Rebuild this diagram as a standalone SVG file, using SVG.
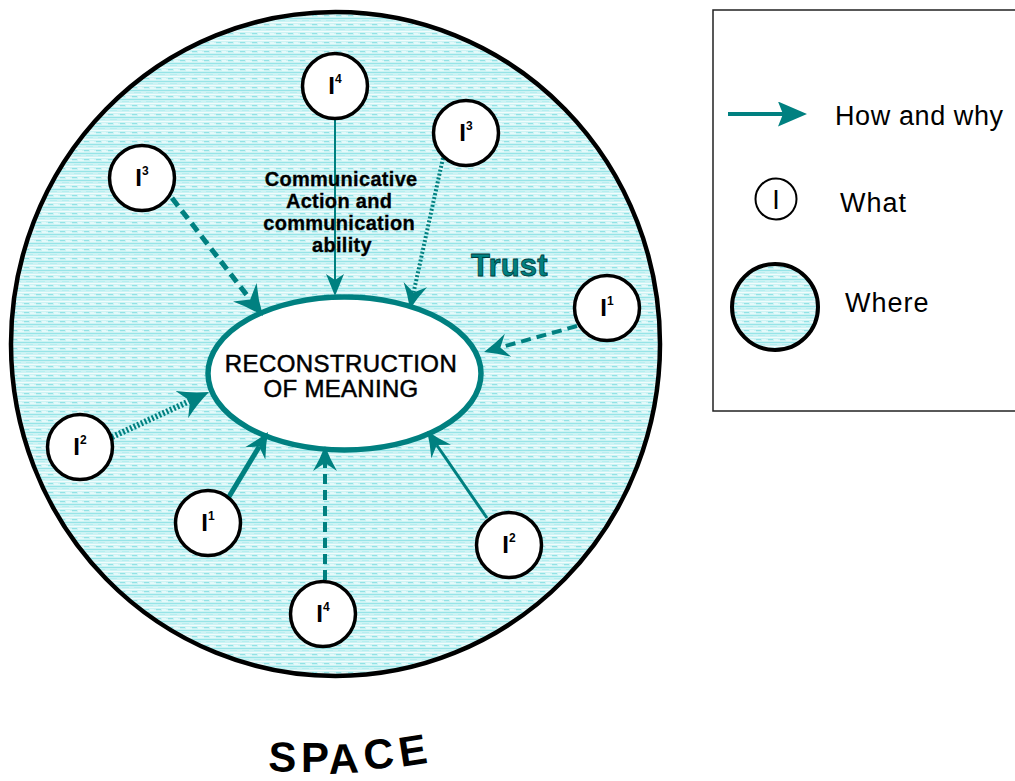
<svg xmlns="http://www.w3.org/2000/svg" width="1015" height="781" viewBox="0 0 1015 781">
<style>
.node circle{fill:#fff;stroke:#000;stroke-width:3.5}
.node text{font-family:"Liberation Sans",Arial,sans-serif;font-weight:bold;font-size:24px;fill:#000;text-anchor:middle}
.sup{font-size:12px}
.conn line{stroke:#008080;fill:none}
.lbl{font-family:"Liberation Sans",Arial,sans-serif;fill:#000}
</style>
<defs>
<pattern id="water" width="12" height="9" patternUnits="userSpaceOnUse">
<rect width="12" height="9" fill="#cdf3f4"/>
<rect y="0" width="12" height="1" fill="#96e4e7"/>
<rect x="2" y="2" width="7" height="1" fill="#b6eef0"/>
<rect y="4" width="12" height="1" fill="#f1fcfc"/>
<rect y="6" width="5" height="1" fill="#92e2e5"/>
<rect x="6" y="6" width="4" height="1" fill="#e3f9fa"/>
<rect x="6" y="7" width="6" height="1" fill="#e6fafa"/>
</pattern>
<marker id="ahL" viewBox="0 0 30 30" markerWidth="30" markerHeight="30" refX="9" refY="15" orient="auto" markerUnits="userSpaceOnUse"><path d="M30,15 Q14,9 0,0 L9,15 L0,30 Q14,21 30,15 Z" fill="#008080"/></marker>
<marker id="ahM" viewBox="0 0 25 24" markerWidth="25" markerHeight="24" refX="8" refY="12" orient="auto" markerUnits="userSpaceOnUse"><path d="M25,12 Q12,7 0,0 L8,12 L0,24 Q12,17 25,12 Z" fill="#008080"/></marker>
<marker id="ahS" viewBox="0 0 22 18" markerWidth="22" markerHeight="18" refX="6" refY="9" orient="auto" markerUnits="userSpaceOnUse"><path d="M22,9 L0,0 L6,9 L0,18 Z" fill="#008080"/></marker>
<marker id="ahLeg" viewBox="0 0 29 25" markerWidth="29" markerHeight="25" refX="5" refY="12.5" orient="auto" markerUnits="userSpaceOnUse"><path d="M29,12.5 L0,0 L5,12.5 L0,25 Z" fill="#008080"/></marker>
</defs>

<g id="space">
<ellipse cx="335.5" cy="344" rx="324.5" ry="332" fill="url(#water)" stroke="#000" stroke-width="4.5"/>
</g>

<g id="center">
<ellipse cx="344.5" cy="373.5" rx="136.5" ry="76.5" fill="#fff" stroke="#008080" stroke-width="5.5"/>
<text class="lbl" x="341" y="371.5" font-size="24" letter-spacing="0.4" text-anchor="middle" stroke="#000" stroke-width="0.5">RECONSTRUCTION</text>
<text class="lbl" x="341" y="397" font-size="24" letter-spacing="0.3" text-anchor="middle" stroke="#000" stroke-width="0.5">OF MEANING</text>
</g>

<g id="connectors" class="conn">
<line x1="335" y1="119" x2="335" y2="280" stroke-width="2" marker-end="url(#ahS)"/>
<line x1="172" y1="198" x2="250.2" y2="299.4" stroke-width="5" stroke-dasharray="10 6" marker-end="url(#ahL)"/>
<line x1="443" y1="158" x2="413.6" y2="292.4" stroke-width="4" stroke-dasharray="2 2" marker-end="url(#ahM)"/>
<line x1="577" y1="326" x2="500.4" y2="347.4" stroke-width="4" stroke-dasharray="10 6" marker-end="url(#ahM)"/>
<line x1="112" y1="437" x2="190" y2="400.8" stroke-width="6" stroke-dasharray="2 2" marker-end="url(#ahL)"/>
<line x1="227" y1="500" x2="259.2" y2="446.6" stroke-width="5" marker-end="url(#ahM)"/>
<line x1="325" y1="580" x2="325" y2="463" stroke-width="4" stroke-dasharray="10 6" marker-end="url(#ahM)"/>
<line x1="487" y1="518" x2="436.7" y2="445" stroke-width="3" marker-end="url(#ahM)"/>
</g>

<g id="comm-label">
<text class="lbl" font-weight="bold" font-size="20" letter-spacing="0.3" text-anchor="middle" stroke="#000" stroke-width="0.3">
<tspan x="344" y="186">Communicative</tspan>
<tspan x="342" y="208">Action and</tspan>
<tspan x="342" y="230">communication</tspan>
<tspan x="342" y="252">ability</tspan>
</text>
</g>

<g id="trust">
<text x="471" y="276" font-family="'Liberation Sans',Arial,sans-serif" font-weight="bold" font-size="31" letter-spacing="0.2" fill="#008080" stroke="#003c3c" stroke-width="0.8">Trust</text>
</g>

<g id="n-top-i4" class="node"><circle cx="335" cy="86" r="32.5"/><text x="335" y="94">I<tspan class="sup" dy="-11">4</tspan></text></g>
<g id="n-left-i3" class="node"><circle cx="142" cy="178" r="32.5"/><text x="142" y="186">I<tspan class="sup" dy="-11">3</tspan></text></g>
<g id="n-right-i3" class="node"><circle cx="466" cy="133" r="32.5"/><text x="466" y="141">I<tspan class="sup" dy="-11">3</tspan></text></g>
<g id="n-right-i1" class="node"><circle cx="607" cy="308" r="32.5"/><text x="607" y="316">I<tspan class="sup" dy="-11">1</tspan></text></g>
<g id="n-left-i2" class="node"><circle cx="80" cy="447" r="32.5"/><text x="80" y="455">I<tspan class="sup" dy="-11">2</tspan></text></g>
<g id="n-bl-i1" class="node"><circle cx="208" cy="523" r="32.5"/><text x="208" y="531">I<tspan class="sup" dy="-11">1</tspan></text></g>
<g id="n-bottom-i4" class="node"><circle cx="323" cy="614" r="32.5"/><text x="323" y="622">I<tspan class="sup" dy="-11">4</tspan></text></g>
<g id="n-right-i2" class="node"><circle cx="509" cy="545" r="32.5"/><text x="509" y="553">I<tspan class="sup" dy="-11">2</tspan></text></g>

<g id="space-label">
<text font-family="'Liberation Sans',Arial,sans-serif" font-weight="bold" font-size="42" fill="#000" x="268 301 329 365 401" y="771 772 774 770 767" rotate="2 0 -3 -6 -9">SPACE</text>
</g>

<g id="legend">
<rect x="713" y="10" width="330" height="401" fill="#fff" stroke="#222" stroke-width="1.5"/>
<line x1="728" y1="114" x2="783" y2="114" stroke="#008080" stroke-width="4" marker-end="url(#ahLeg)"/>
<text class="lbl" x="835" y="125" font-size="27" letter-spacing="0.6">How and why</text>
<circle cx="776" cy="199" r="20.5" fill="#fff" stroke="#000" stroke-width="2"/>
<text class="lbl" x="776" y="209" font-size="27" text-anchor="middle">I</text>
<text class="lbl" x="840" y="212" font-size="27" letter-spacing="1">What</text>
<circle cx="775" cy="307" r="43" fill="url(#water)" stroke="#000" stroke-width="4"/>
<text class="lbl" x="845" y="312" font-size="27" letter-spacing="1">Where</text>
</g>
</svg>
